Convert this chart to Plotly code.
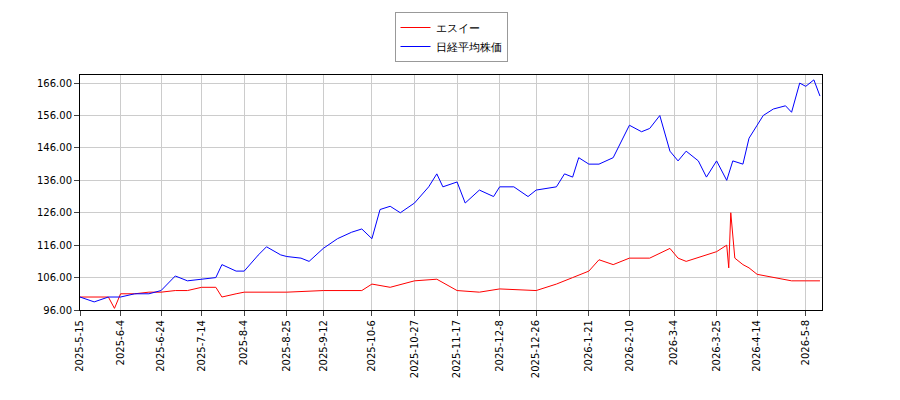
import plotly.graph_objects as go
import pandas as pd

blue_dates = ["2025-05-15","2025-05-22","2025-05-29","2025-06-04","2025-06-11","2025-06-18","2025-06-24","2025-07-01","2025-07-07","2025-07-14","2025-07-21","2025-07-24","2025-07-31","2025-08-04","2025-08-11","2025-08-15","2025-08-22","2025-08-25","2025-09-01","2025-09-05","2025-09-12","2025-09-19","2025-09-26","2025-10-01","2025-10-06","2025-10-10","2025-10-15","2025-10-20","2025-10-27","2025-11-03","2025-11-07","2025-11-10","2025-11-17","2025-11-21","2025-11-28","2025-12-05","2025-12-08","2025-12-15","2025-12-22","2025-12-26","2026-01-05","2026-01-09","2026-01-13","2026-01-16","2026-01-21","2026-01-26","2026-02-02","2026-02-10","2026-02-16","2026-02-20","2026-02-25","2026-03-02","2026-03-06","2026-03-10","2026-03-16","2026-03-20","2026-03-25","2026-03-30","2026-04-02","2026-04-07","2026-04-10","2026-04-14","2026-04-17","2026-04-22","2026-04-28","2026-05-01","2026-05-05","2026-05-08","2026-05-12","2026-05-15"]
blue_vals = [100,98.5,100,100,101,101,102,106.5,105,105.5,106,110,108,108,113,115.5,113,112.5,112,111,115,118,120,121,118,127,128,126,129,134,138,134,135.5,129,133,131,134,134,131,133,134,138,137,143,141,141,143,153,151,152,156,145,142,145,142,137,142,136,142,141,149,153,156,158,159,157,166,165,167,162]

red_dates = ["2025-05-15","2025-05-29","2025-06-01","2025-06-04","2025-06-11","2025-06-18","2025-06-24","2025-07-01","2025-07-07","2025-07-14","2025-07-21","2025-07-24","2025-07-31","2025-08-04","2025-08-25","2025-09-12","2025-10-01","2025-10-06","2025-10-15","2025-10-27","2025-11-07","2025-11-17","2025-11-28","2025-12-08","2025-12-26","2026-01-05","2026-01-13","2026-01-21","2026-01-26","2026-02-02","2026-02-10","2026-02-20","2026-03-02","2026-03-06","2026-03-10","2026-03-20","2026-03-25","2026-03-30","2026-03-31","2026-04-01","2026-04-03","2026-04-07","2026-04-10","2026-04-14","2026-04-22","2026-05-01","2026-05-08","2026-05-15"]
red_vals = [100,100,96.5,101,101,101.5,101.5,102,102,103,103,100,101,101.5,101.5,102,102,104,103,105,105.5,102,101.5,102.5,102,104,106,108,111.5,110,112,112,115,112,111,113,114,116,109,126,112,110,109,107,106,105,105,105]

yticks = [96,106,116,126,136,146,156,166]
xticks = ["2025-05-15","2025-06-04","2025-06-24","2025-07-14","2025-08-04","2025-08-25","2025-09-12","2025-10-06","2025-10-27","2025-11-17","2025-12-08","2025-12-26","2026-01-21","2026-02-10","2026-03-04","2026-03-25","2026-04-14","2026-05-08"]

fig = go.Figure()
fig.add_trace(go.Scatter(x=red_dates, y=red_vals, mode="lines", name="エスイー", line=dict(color="red", width=1)))
fig.add_trace(go.Scatter(x=blue_dates, y=blue_vals, mode="lines", name="日経平均株価", line=dict(color="blue", width=1)))
fig.update_layout(
    width=900, height=400, paper_bgcolor="white", plot_bgcolor="white",
    margin=dict(l=72, r=86, t=63, b=98),
    font=dict(family="DejaVu Sans", size=10, color="black"),
    legend=dict(x=0.5, y=0.99, xanchor="center", yanchor="top", yref="container", bordercolor="#999", borderwidth=1, bgcolor="white", font=dict(size=11)),
    showlegend=True,
)
fig.update_xaxes(range=["2025-05-15", "2026-05-16"], tickvals=xticks, tickformat="%Y-%-m-%-d", tickangle=-90,
                 showgrid=True, gridcolor="#ccc", showline=True, linecolor="black", ticks="outside", mirror=True)
fig.update_yaxes(range=[96, 168.5], tickvals=yticks, tickformat=".2f", showgrid=True, gridcolor="#ccc",
                 showline=True, linecolor="black", ticks="outside", mirror=True)
fig.write_html("out.html")
